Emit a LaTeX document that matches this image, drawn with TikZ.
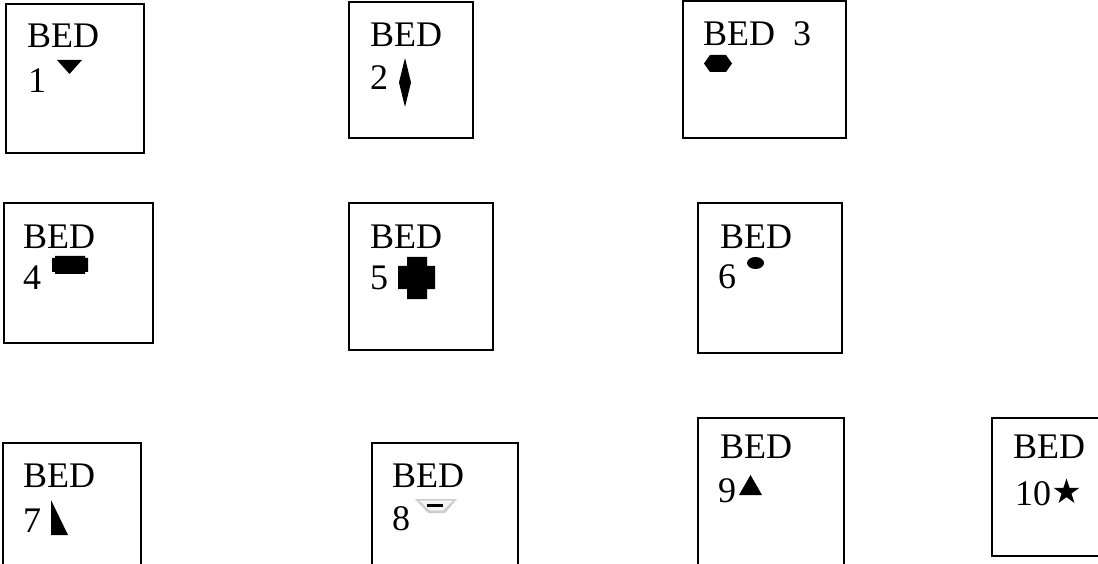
\documentclass[tikz,border=0pt]{standalone}
\usepackage{fontspec}
\setmainfont{Liberation Serif}
\usetikzlibrary{shapes.geometric}
\tikzset{
  bedbox/.style={draw=black, line width=1.5pt, inner sep=0pt},
  bedtxt/.style={anchor=base west, inner sep=0pt, font=\fontsize{36}{36}\selectfont},
  sym/.style={fill=black, draw=none}
}
\begin{document}
\begin{tikzpicture}[x=1pt,y=-1pt]
\useasboundingbox (0,0) rectangle (1098,564);
\clip (0,0) rectangle (1098,564);
% boxes
\draw[bedbox] (6,4) rectangle (144,153);
\draw[bedbox] (349,2) rectangle (473,138);
\draw[bedbox] (683,1) rectangle (846,138);
\draw[bedbox] (4,203) rectangle (153,343);
\draw[bedbox] (349,203) rectangle (493,350);
\draw[bedbox] (698,203) rectangle (842,353);
\draw[bedbox] (3,443) rectangle (141,580);
\draw[bedbox] (372,443) rectangle (518,580);
\draw[bedbox] (698,418) rectangle (844,580);
\draw[bedbox] (992,418) rectangle (1110,556);
% texts
\node[bedtxt] (t1a) at (27,48) {BED};
\node[bedtxt] (t1b) at (28,93) {1};
\node[bedtxt] (t2a) at (370,47) {BED};
\node[bedtxt] (t2b) at (370,90) {2};
\node[bedtxt] (t3a) at (703,46) {BED\ \ 3};
\node[bedtxt] (t4a) at (23,248) {BED};
\node[bedtxt] (t4b) at (23,290) {4};
\node[bedtxt] (t5a) at (370,248) {BED};
\node[bedtxt] (t5b) at (370,290) {5};
\node[bedtxt] (t6a) at (720,248) {BED};
\node[bedtxt] (t6b) at (718,288) {6};
\node[bedtxt] (t7a) at (23,487) {BED};
\node[bedtxt] (t7b) at (23,532) {7};
\node[bedtxt] (t8a) at (392,487) {BED};
\node[bedtxt] (t8b) at (392,530) {8};
\node[bedtxt] (t9a) at (720,458) {BED};
\node[bedtxt] (t9b) at (718,502) {9};
\node[bedtxt] (t10a) at (1013,458) {BED};
\node[bedtxt] (t10b) at (1015,505) {10};
% symbols
\fill[sym] (57,60) -- (82,60) -- (69.5,74) -- cycle;
\fill[sym] (405,58) -- (411,82.5) -- (405,107) -- (399,82.5) -- cycle;
\fill[sym] (704,63.5) -- (710,55) -- (726,55) -- (732,63.5) -- (726,72) -- (710,72) -- cycle;
\fill[sym] (55,256) -- (85,256) -- (85,258) -- (88,258) -- (88,272) -- (85,272) -- (85,274) -- (55,274) -- (55,272) -- (52,272) -- (52,258) -- (55,258) -- cycle;
\fill[sym] (407,257) -- (427,257) -- (427,266) -- (435,266) -- (435,289) -- (427,289) -- (427,299) -- (407,299) -- (407,289) -- (398,289) -- (398,266) -- (407,266) -- cycle;
\fill[sym] (755.5,263) ellipse [x radius=8.5, y radius=6];
\fill[sym] (51,500) -- (68,535) -- (51,535) -- cycle;
\fill[black!20] (415,499) -- (457,499) -- (445,513) -- (428,513) -- cycle;
\fill[black!4] (419,500.5) -- (453,500.5) -- (443,510.5) -- (430,510.5) -- cycle;
\fill[sym] (427,504) rectangle (443,507);
\fill[sym] (739,495) -- (750.5,475) -- (762,495) -- cycle;
\node[star, star points=5, star point ratio=2.6, fill=black, inner sep=0pt, minimum size=27pt] (s10) at (1066.5,492) {};
\end{tikzpicture}
\end{document}
